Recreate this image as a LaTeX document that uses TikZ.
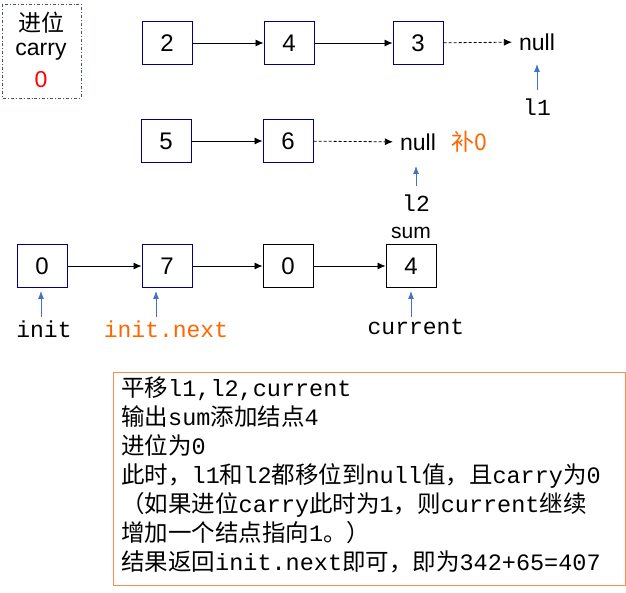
\documentclass[tikz,border=0pt]{standalone}
\usepackage{fontspec}
\setmainfont{Liberation Sans}
\setmonofont{Liberation Mono}
\newfontfamily\cjk{Noto Sans CJK SC}
\usetikzlibrary{arrows.meta}
\definecolor{ptr}{RGB}{68,114,196}
\definecolor{slate}{RGB}{68,84,106}
\begin{document}
\begin{tikzpicture}[x=1pt,y=-1pt,
  nbox/.style={draw=blue!50!black,line width=1pt,minimum width=50pt,minimum height=43pt,inner sep=0pt,font=\fontsize{24}{24}\selectfont},
  kbox/.style={nbox,draw=black},
  arr/.style={-{Latex[length=8pt,width=7pt]},line width=0.8pt},
  darr/.style={arr,densely dashed,shorten >=6pt},
  parr/.style={-{Latex[length=8pt,width=6pt]},draw=ptr,line width=0.8pt},
  lbl/.style={font=\ttfamily\fontsize{23}{23}\selectfont,inner sep=1pt},
  txt/.style={font=\fontsize{23}{23}\selectfont,inner sep=1pt}]
\useasboundingbox (0,0) rectangle (626,593);
% carry
\draw[slate,line width=0.9pt,dash dot] (2,4) rectangle (81,98);
\node[txt] (jw) at (41,23) {\cjk 进位};
\node[txt] (cr) at (41,52) {carry};
\node[txt,text=red] (c0) at (41,80) {0};
% row1
\node[nbox] (a) at (167,43) {2};
\node[nbox] (b) at (289,43) {4};
\node[nbox] (c) at (418,43) {3};
\node[txt] (n1) at (537,42) {null};
\draw[arr] (a) -- (b); \draw[arr] (b) -- (c); \draw[darr] (c) -- (n1);
\node[lbl] (l1) at (537,107) {l1};
\coordinate (q1) at (537,90); \coordinate (r1) at (537,64);
\draw[parr] (q1) -- (r1);
% row2
\node[nbox] (d) at (166,141) {5};
\node[nbox] (e) at (288,141) {6};
\node[txt] (n2) at (418,142) {null};
\node[txt,text=orange!80!red] (b0) at (469,142) {\cjk 补0};
\draw[arr] (d) -- (e); \draw[darr] (e) -- (n2);
\node[lbl] (l2) at (416,203) {l2};
\coordinate (q2) at (416,186); \coordinate (r2) at (416,166);
\draw[parr] (q2) -- (r2);
% row3
\node[nbox] (f) at (42,266) {0};
\node[nbox] (g) at (167,266) {7};
\node[kbox] (h) at (288,266) {0};
\node[kbox] (k) at (411,266) {4};
\node[txt,font=\fontsize{21}{21}\selectfont] (sum) at (411,233) {sum};
\draw[arr] (f) -- (g); \draw[arr] (g) -- (h); \draw[arr] (h) -- (k);
\node[lbl] (ini) at (44,329) {init};
\node[lbl,text=orange!80!red] (inn) at (166,329) {init.next};
\node[lbl] (cur) at (416,327) {current};
\coordinate (p1) at (41,317); \coordinate (p2) at (156,317); \coordinate (p3) at (411,317);
\coordinate (s1) at (41,291); \coordinate (s2) at (156,291); \coordinate (s3) at (411,291);
\draw[parr] (p1) -- (s1); \draw[parr] (p2) -- (s2); \draw[parr] (p3) -- (s3);
% text box
\draw[orange!70!red!70,line width=0.8pt] (113,372) rectangle (625,585);
\node[anchor=north west,inner sep=0pt,align=left,font=\fontsize{23.5}{29}\selectfont\ttfamily] (tb) at (121,377) {%
{\cjk 平移}l1,l2,current\\
{\cjk 输出}sum{\cjk 添加结点}4\\
{\cjk 进位为}0\\
{\cjk 此时，}l1{\cjk 和}l2{\cjk 都移位到}null{\cjk 值，且}carry{\cjk 为}0\\
{\cjk （如果进位}carry{\cjk 此时为}1{\cjk ，则}current{\cjk 继续}\\
{\cjk 增加一个结点指向}1{\cjk 。）}\\
{\cjk 结果返回}init.next{\cjk 即可，即为}342+65=407};
\end{tikzpicture}
\end{document}
